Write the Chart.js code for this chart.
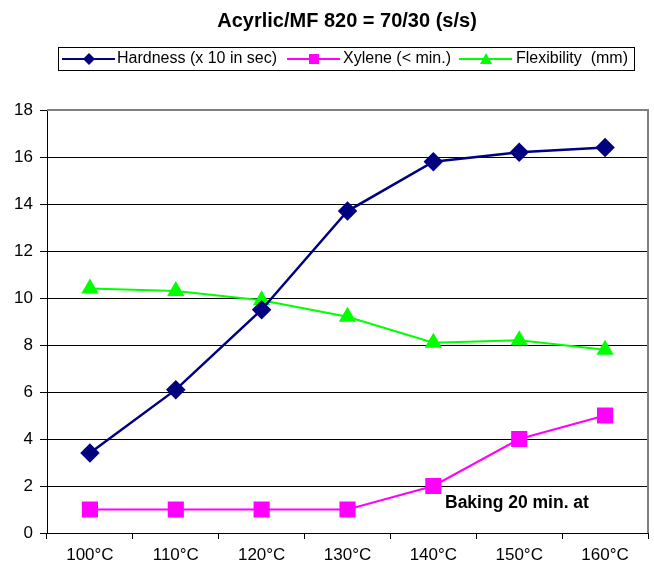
<!DOCTYPE html>
<html>
<head>
<meta charset="utf-8">
<script src="https://cdn.jsdelivr.net/npm/chart.js@4.4.1/dist/chart.umd.min.js"></script>
<style>
    html, body { margin: 0; padding: 0; background: #fff; }
    #wrap { width: 654px; height: 566px; }
</style>
</head>
<body>
<div id="wrap"><canvas id="chart" width="654" height="566"></canvas></div>
<script>
const categories = ['100°C', '110°C', '120°C', '130°C', '140°C', '150°C', '160°C'];
const hardness = [3.4, 6.1, 9.5, 13.7, 15.8, 16.2, 16.4];
const xylene = [1, 1, 1, 1, 2, 4, 5];
const flexibility = [10.4, 10.3, 9.9, 9.2, 8.1, 8.2, 7.8];
const yTicks = [0, 2, 4, 6, 8, 10, 12, 14, 16, 18];

const titleText = 'Acyrlic/MF 820 = 70/30 (s/s)';
const noteText = 'Baking 20 min. at';
const FONT = '"Liberation Sans", Arial, sans-serif';

const legendItems = [
    { label: 'Hardness (x 10 in sec)', color: '#000080', style: 'rectRot', lineX: 62, textX: 117 },
    { label: 'Xylene (< min.)', color: '#ff00ff', style: 'rect', lineX: 287, textX: 343 },
    { label: 'Flexibility  (mm)', color: '#00ff00', style: 'triangle', lineX: 459, textX: 516 }
];

const drawMarker = (ctx, style, x, y, color) => {
    ctx.fillStyle = color;
    ctx.beginPath();
    if (style === 'rectRot') {
        ctx.moveTo(x, y - 6); ctx.lineTo(x + 6, y); ctx.lineTo(x, y + 6); ctx.lineTo(x - 6, y);
    } else if (style === 'rect') {
        ctx.rect(x - 5, y - 5, 10, 10);
    } else {
        ctx.moveTo(x, y - 6); ctx.lineTo(x + 6, y + 5); ctx.lineTo(x - 6, y + 5);
    }
    ctx.closePath();
    ctx.fill();
};

const decorations = {
    id: 'decorations',
    afterDraw(chart) {
        const { ctx, chartArea } = chart;
        ctx.save();
        // plot border (top and right in grey)
        ctx.strokeStyle = '#808080';
        ctx.lineWidth = 2;
        ctx.beginPath();
        ctx.moveTo(chartArea.left, chartArea.top);
        ctx.lineTo(chartArea.right, chartArea.top);
        ctx.lineTo(chartArea.right, chartArea.bottom);
        ctx.stroke();

        // title
        ctx.fillStyle = '#000';
        ctx.font = 'bold 20px ' + FONT;
        ctx.textAlign = 'center';
        ctx.textBaseline = 'middle';
        ctx.fillText(titleText, 347, 21);

        // legend box
        ctx.strokeStyle = '#000';
        ctx.lineWidth = 1;
        ctx.strokeRect(58.5, 47.5, 576, 23);
        ctx.font = '16px ' + FONT;
        ctx.textAlign = 'left';
        legendItems.forEach(item => {
            ctx.strokeStyle = item.color;
            ctx.lineWidth = 2;
            ctx.beginPath();
            ctx.moveTo(item.lineX, 59);
            ctx.lineTo(item.lineX + 53, 59);
            ctx.stroke();
            drawMarker(ctx, item.style, item.lineX + 27, 59, item.color);
            ctx.fillStyle = '#000';
            ctx.fillText(item.label, item.textX, 59);
        });

        // annotation
        ctx.font = 'bold 17.5px ' + FONT;
        ctx.fillText(noteText, 445, 503);
        ctx.restore();
    }
};

new Chart(document.getElementById('chart'), {
    type: 'line',
    data: {
        labels: categories,
        datasets: [
            {
                label: 'Hardness (x 10 in sec)',
                data: hardness,
                borderColor: '#000080',
                backgroundColor: '#000080',
                borderWidth: 2.5,
                pointStyle: 'rectRot',
                pointRadius: 8,
                pointHoverRadius: 8,
                tension: 0
            },
            {
                label: 'Xylene (< min.)',
                data: xylene,
                borderColor: '#ff00ff',
                backgroundColor: '#ff00ff',
                borderWidth: 2,
                pointStyle: 'rect',
                pointRadius: 10,
                pointHoverRadius: 10,
                tension: 0
            },
            {
                label: 'Flexibility  (mm)',
                data: flexibility,
                borderColor: '#00ff00',
                backgroundColor: '#00ff00',
                borderWidth: 2,
                pointStyle: 'triangle',
                pointRadius: 8,
                pointHoverRadius: 8,
                tension: 0
            }
        ]
    },
    options: {
        responsive: false,
        animation: false,
        events: [],
        layout: { autoPadding: false, padding: { top: 110, right: 6, left: 0, bottom: 0 } },
        plugins: {
            legend: { display: false },
            title: { display: false },
            tooltip: { enabled: false }
        },
        scales: {
            x: {
                offset: true,
                afterFit: scale => { scale.height = 33; },
                grid: {
                    offset: true,
                    drawOnChartArea: false,
                    drawTicks: true,
                    tickLength: 6,
                    color: '#000'
                },
                border: { color: '#000', width: 1 },
                ticks: {
                    color: '#000',
                    font: { family: FONT, size: 17 },
                    padding: 6,
                    maxRotation: 0
                }
            },
            y: {
                min: yTicks[0],
                max: yTicks[yTicks.length - 1],
                afterFit: scale => { scale.width = 47; },
                afterBuildTicks: scale => { scale.ticks = yTicks.map(v => ({ value: v })); },
                grid: {
                    color: '#000',
                    tickLength: 7,
                    drawTicks: true
                },
                border: { color: '#000', width: 1 },
                ticks: {
                    color: '#000',
                    font: { family: FONT, size: 17 },
                    padding: 7
                }
            }
        }
    },
    plugins: [decorations]
});
</script>
</body>
</html>
